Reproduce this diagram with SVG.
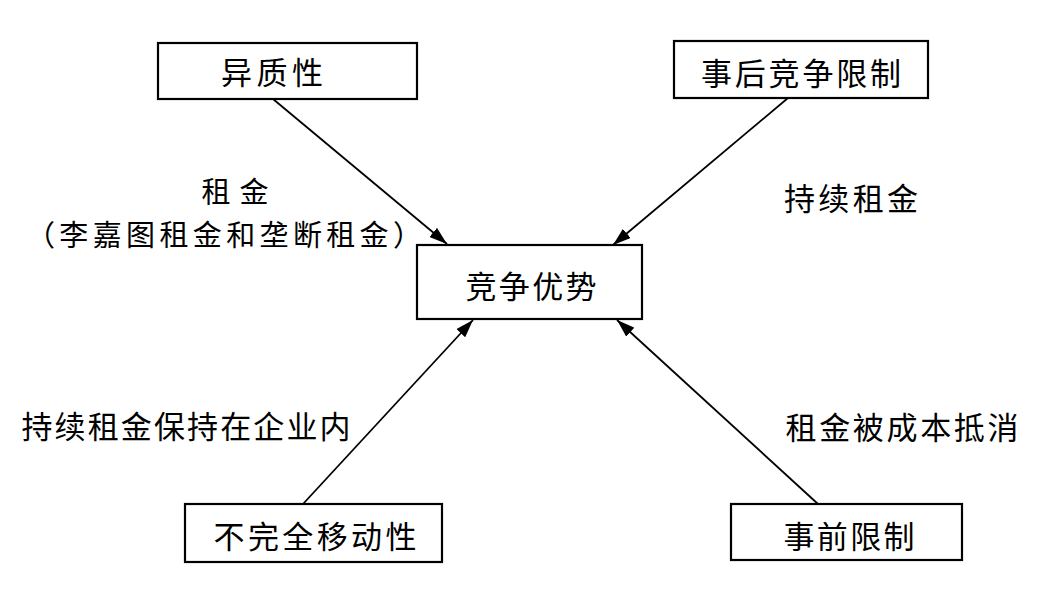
<svg xmlns="http://www.w3.org/2000/svg" width="1048" height="593" viewBox="0 0 1048 593">
<style>
.box{fill:#fff;stroke:#000;stroke-width:2.2}
.t{font-family:"Noto Sans CJK SC","Noto Sans CJK JP",sans-serif;font-size:31px;fill:#000;text-anchor:middle;dominant-baseline:central}
.s{font-size:29px}
.c{stroke:#000;stroke-width:1.8;fill:none;marker-end:url(#ah)}
</style>
<defs>
<marker id="ah" markerUnits="userSpaceOnUse" markerWidth="20" markerHeight="12" refX="18" refY="6" orient="auto">
<path d="M0,0 L18,6 L0,12 Z" fill="#000"/>
</marker>
</defs>
<rect width="1048" height="593" fill="#fff"/>
<g id="connectors">
<line class="c" x1="273" y1="99" x2="447" y2="244"/>
<line class="c" x1="788" y1="98" x2="613" y2="245"/>
<line class="c" x1="303" y1="504" x2="473" y2="320"/>
<line class="c" x1="818" y1="504" x2="617" y2="320"/>
</g>
<g id="node-heterogeneity">
<rect class="box" x="158" y="43" width="259" height="56"/>
<text class="t" x="272" y="70" textLength="102" lengthAdjust="spacing">异质性</text>
</g>
<g id="node-expost">
<rect class="box" x="674" y="41" width="254" height="57"/>
<text class="t" x="801" y="71" textLength="200" lengthAdjust="spacing">事后竞争限制</text>
</g>
<g id="node-advantage">
<rect class="box" x="417" y="245" width="225" height="74"/>
<text class="t" x="531" y="284" textLength="131" lengthAdjust="spacing">竞争优势</text>
</g>
<g id="node-immobility">
<rect class="box" x="185" y="504" width="257" height="58"/>
<text class="t" x="315" y="534" textLength="203" lengthAdjust="spacing">不完全移动性</text>
</g>
<g id="node-exante">
<rect class="box" x="731" y="504" width="231" height="56"/>
<text class="t" x="849" y="534" textLength="131" lengthAdjust="spacing">事前限制</text>
</g>
<g id="labels">
<text class="t s" x="235" y="190" textLength="67" lengthAdjust="spacing">租金</text>
<text class="t s" x="224" y="233" textLength="396" lengthAdjust="spacing">（李嘉图租金和垄断租金）</text>
<text class="t" x="851" y="196" textLength="134" lengthAdjust="spacing">持续租金</text>
<text class="t" x="186" y="424" textLength="329" lengthAdjust="spacing">持续租金保持在企业内</text>
<text class="t" x="902" y="425" textLength="233" lengthAdjust="spacing">租金被成本抵消</text>
</g>
</svg>
